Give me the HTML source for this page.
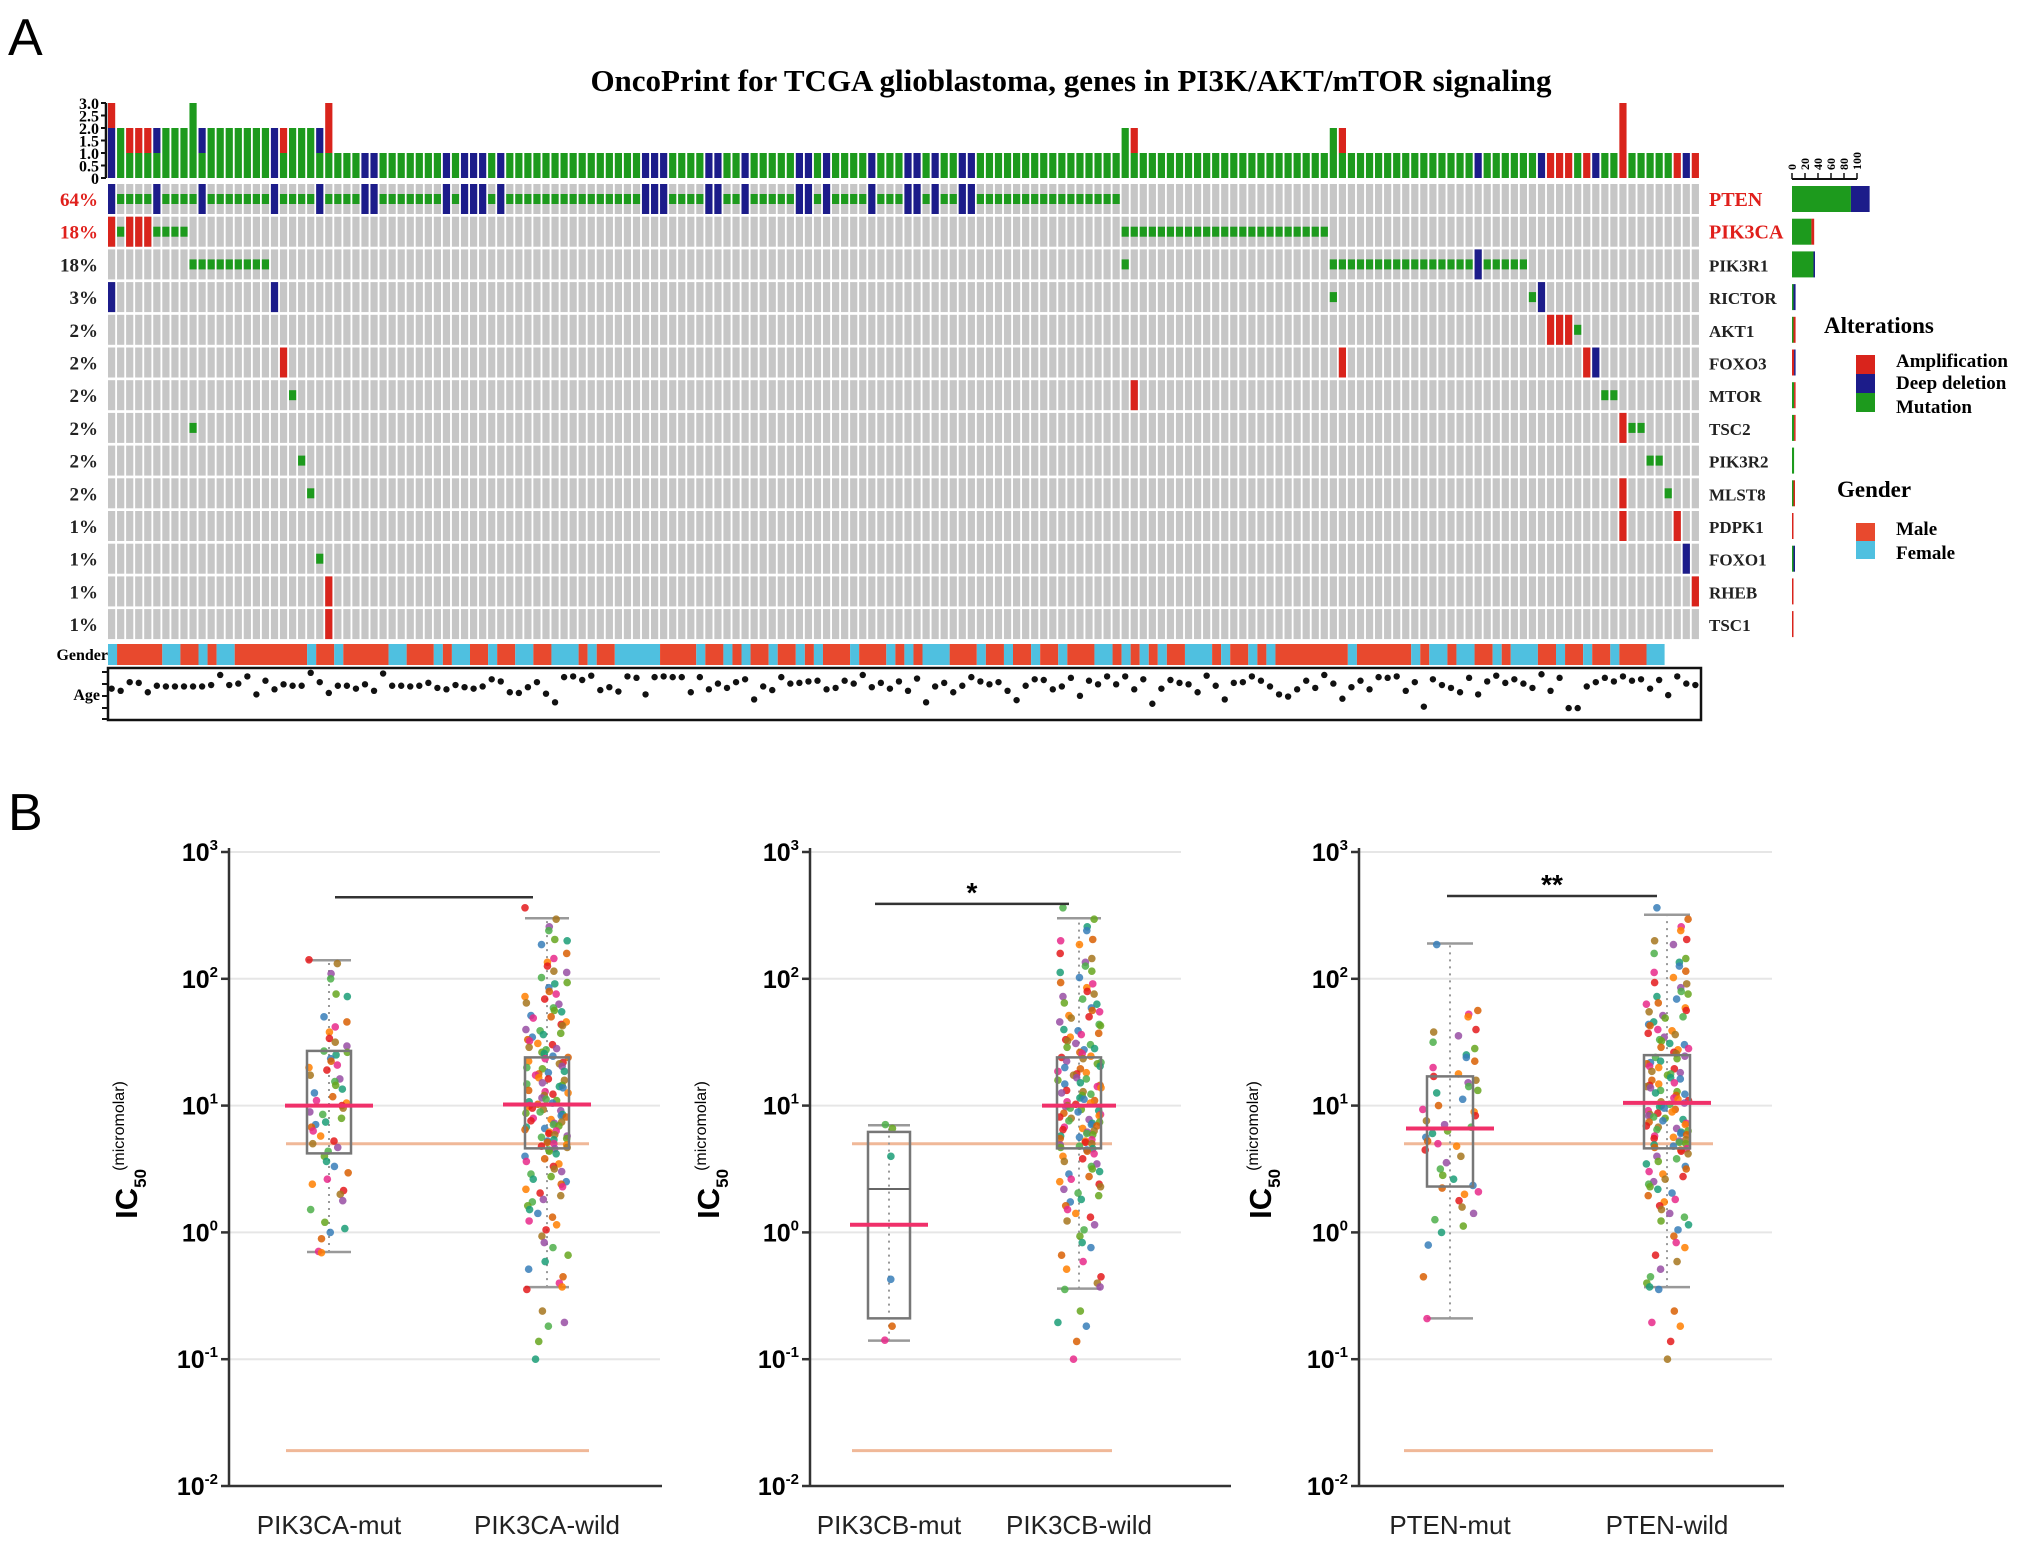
<!DOCTYPE html>
<html><head><meta charset="utf-8"><style>
html,body{margin:0;padding:0;background:#fff;}
svg{display:block;}
</style></head><body>
<svg id="fig" width="2031" height="1545" viewBox="0 0 2031 1545" xmlns="http://www.w3.org/2000/svg">
<rect width="2031" height="1545" fill="#fff"/>
<text x="8" y="55" font-family="Liberation Sans, sans-serif" font-size="52">A</text>
<text x="8" y="830" font-family="Liberation Sans, sans-serif" font-size="52">B</text>
<text x="1071" y="91" text-anchor="middle" font-family="Liberation Serif, serif" font-weight="bold" font-size="31">OncoPrint for TCGA glioblastoma, genes in PI3K/AKT/mTOR signaling</text>
<g id="onco"></g>
<g id="legend">
  <text x="1824" y="333" font-family="Liberation Serif, serif" font-weight="bold" font-size="23">Alterations</text>
  <rect x="1856" y="355" width="19" height="19" fill="#d9241c"/>
  <rect x="1856" y="374" width="19" height="19" fill="#1c1c8a"/>
  <rect x="1856" y="393" width="19" height="19" fill="#1d9a1d"/>
  <text x="1896" y="367" font-family="Liberation Serif, serif" font-weight="bold" font-size="19">Amplification</text>
  <text x="1896" y="389" font-family="Liberation Serif, serif" font-weight="bold" font-size="19">Deep deletion</text>
  <text x="1896" y="413" font-family="Liberation Serif, serif" font-weight="bold" font-size="19">Mutation</text>
  <text x="1837" y="497" font-family="Liberation Serif, serif" font-weight="bold" font-size="23">Gender</text>
  <rect x="1856" y="523" width="19" height="18" fill="#e8492e"/>
  <rect x="1856" y="541" width="19" height="18" fill="#4fc0e0"/>
  <text x="1896" y="535" font-family="Liberation Serif, serif" font-weight="bold" font-size="19">Male</text>
  <text x="1896" y="559" font-family="Liberation Serif, serif" font-weight="bold" font-size="19">Female</text>
</g>
<g id="panelB"></g>
</svg>
<script>
// ---------- Oncoprint data ----------
const nSamples = 176;
const genes = ['PTEN','PIK3CA','PIK3R1','RICTOR','AKT1','FOXO3','MTOR','TSC2','PIK3R2','MLST8','PDPK1','FOXO1','RHEB','TSC1'];
const genePct = ['64%','18%','18%','3%','2%','2%','2%','2%','2%','2%','1%','1%','1%','1%'];
const highlightGenes = ['PTEN','PIK3CA'];
const ptenDel = [0,5,10,18,23,28,29,37,39,40,41,43,59,60,61,66,67,70,76,77,79,84,88,89,91,94,95];
const ptenAlteredRange = [0,111];
const pik3caAmp = [0,2,3,4];
const pik3caMut = [1,5,6,7,8,112,113,114,115,116,117,118,119,120,121,122,123,124,125,126,127,128,129,130,131,132,133,134];
const pik3r1Mut = [9,10,11,12,13,14,15,16,17,112,135,136,137,138,139,140,141,142,143,144,145,146,147,148,149,150,152,153,154,155,156];
const pik3r1Del = [151];
const rictorDel = [0,18,158];
const rictorMut = [135,157];
const akt1Amp = [159,160,161];
const akt1Mut = [162];
const foxo3Amp = [19,136,163];
const foxo3Del = [164];
const mtorMut = [20,165,166];
const mtorAmp = [113];
const tsc2Mut = [9,168,169];
const tsc2Amp = [167];
const pik3r2Mut = [21,170,171];
const mlst8Mut = [22,172];
const mlst8Amp = [167];
const pdpk1Amp = [167,173];
const foxo1Mut = [23];
const foxo1Del = [174];
const rhebAmp = [24,175];
const tsc1Amp = [24];
const genderRuns = [['F',1],['M',5],['F',2],['M',2],['F',1],['M',1],['F',2],['M',8],['F',1],['M',2],['F',1],['M',5],['F',2],['M',3],['F',1],['M',1],['F',2],['M',2],['F',1],['M',2],['F',2],['M',2],['F',3],['M',1],['F',1],['M',2],['F',5],['M',4],['F',1],['M',2],['F',1],['M',1],['F',1],['M',2],['F',1],['M',2],['F',1],['M',1],['F',1],['M',3],['F',1],['M',3],['F',1],['M',1],['F',1],['M',1],['F',3],['M',3],['F',1],['M',2],['F',1],['M',2],['F',1],['M',2],['F',1],['M',3],['F',2],['M',1],['F',1],['M',1],['F',1],['M',1],['F',1],['M',2],['F',3],['M',1],['F',1],['M',2],['F',1],['M',1],['F',1],['M',8],['F',1],['M',6],['F',1],['M',1],['F',2],['M',1],['F',2],['M',2],['F',1],['M',1],['F',3],['M',2],['F',1],['M',2],['F',1],['M',2],['F',1],['M',3],['F',2]];
const ages = [63,60,72,71,58,67,66,66,66,66,66,68,82,68,70,80,55,74,62,69,67,67,85,72,57,67,67,63,69,60,84,67,67,66,67,71,64,62,68,65,63,66,76,73,58,57,65,72,56,44,79,80,75,81,61,65,59,80,78,55,79,80,79,79,58,79,62,70,64,72,76,48,66,61,79,70,71,73,74,62,64,74,70,82,65,71,63,73,60,77,44,66,71,58,67,79,73,69,72,60,47,67,76,75,62,66,78,53,74,69,80,69,80,62,76,42,63,75,71,69,58,81,67,48,71,72,80,74,66,55,52,62,74,64,82,70,49,65,74,62,79,78,80,60,72,38,76,68,64,58,78,55,73,81,71,76,70,64,83,60,78,36,36,66,72,78,73,80,74,76,63,75,54,80,70,68];
const topAxisTicks = ['0','0.5','1.0','1.5','2.0','2.5','3.0'];
const pctScaleTicks = ['0','20','40','60','80','100'];

// ---------- Panel B data ----------
const orangeRefs = [5, 0.019];
const yTickExps = [-2,-1,0,1,2,3];
const wildLog = [2.56,2.47,2.41,2.38,2.31,2.3,2.27,2.2,2.16,2.13,2.1,2.06,2.05,2.01,1.97,1.96,1.93,1.9,1.88,1.86,1.84,1.81,1.8,1.77,1.75,1.74,1.71,1.7,1.69,1.66,1.64,1.63,1.6,1.59,1.57,1.56,1.54,1.52,1.51,1.49,1.48,1.46,1.45,1.44,1.42,1.41,1.39,1.38,1.37,1.35,1.34,1.33,1.31,1.3,1.29,1.27,1.26,1.25,1.24,1.22,1.21,1.2,1.18,1.17,1.16,1.15,1.14,1.12,1.11,1.1,1.09,1.08,1.06,1.05,1.04,1.03,1.02,1.01,1.0,0.99,0.98,0.97,0.96,0.95,0.94,0.93,0.92,0.91,0.9,0.89,0.88,0.87,0.86,0.85,0.84,0.83,0.82,0.81,0.8,0.79,0.78,0.77,0.76,0.75,0.74,0.73,0.72,0.71,0.7,0.69,0.68,0.67,0.66,0.65,0.64,0.62,0.6,0.58,0.56,0.54,0.52,0.5,0.48,0.46,0.44,0.42,0.4,0.38,0.36,0.34,0.31,0.29,0.26,0.24,0.21,0.18,0.15,0.12,0.09,0.06,0.02,-0.03,-0.08,-0.12,-0.18,-0.23,-0.29,-0.35,-0.4,-0.43,-0.45,-0.62,-0.71,-0.74,-0.86,-1.0];
const pik3caMutLog = [2.15,2.12,2.04,2.0,1.88,1.86,1.7,1.66,1.62,1.58,1.53,1.5,1.47,1.43,1.42,1.4,1.37,1.35,1.32,1.3,1.28,1.24,1.21,1.19,1.16,1.13,1.1,1.07,1.04,1.02,1.0,0.98,0.95,0.93,0.9,0.87,0.85,0.83,0.8,0.76,0.72,0.7,0.67,0.64,0.6,0.56,0.52,0.47,0.42,0.38,0.33,0.3,0.25,0.18,0.08,0.03,0.0,-0.05,-0.15,-0.16];
const pik3cbMutLog = [0.85,0.82,0.6,-0.37,-0.74,-0.85];
const ptenMutLog = [2.27,1.75,1.72,1.7,1.6,1.58,1.55,1.5,1.45,1.4,1.38,1.35,1.3,1.25,1.23,1.2,1.18,1.15,1.12,1.1,1.05,1.0,0.97,0.95,0.92,0.88,0.85,0.83,0.8,0.78,0.75,0.72,0.7,0.68,0.65,0.6,0.55,0.5,0.45,0.42,0.37,0.35,0.32,0.3,0.25,0.2,0.15,0.1,0.05,0.0,-0.1,-0.35,-0.68];
const p1Categories = ['PIK3CA-mut','PIK3CA-wild'];
const p2Categories = ['PIK3CB-mut','PIK3CB-wild'];
const p3Categories = ['PTEN-mut','PTEN-wild'];
const p1MutBox = [0.7,4.2,10,27,140];
const p1WildBox = [0.37,4.6,10,24,300];
const p2MutBox = [0.14,0.21,2.2,6.2,7];
const p2WildBox = [0.36,4.6,10,24,300];
const p3MutBox = [0.21,2.3,6.6,17,190];
const p3WildBox = [0.37,4.6,10.5,25,320];
const p1Means = [10,10.2];
const p2Means = [1.15,10];
const p3Means = [6.6,10.5];
const sigLabels = ['','*','**'];
const sigLevels = [440,390,450];

const NS='http://www.w3.org/2000/svg';
function mk(parent, tag, attrs, text){
  const e=document.createElementNS(NS,tag);
  for(const k in attrs) e.setAttribute(k,attrs[k]);
  if(text!==undefined) e.textContent=text;
  parent.appendChild(e); return e;
}
function range(a,b){const r=[];for(let i=a;i<=b;i++)r.push(i);return r;}

const onco=document.getElementById('onco');
const X0=108, PITCH=9.05, CW=7.2, ROW0=184, RP=32.7, RH=30;
const colX=c=>X0+c*PITCH;
const rowY=r=>ROW0+r*RP;
const C={amp:'#d9241c',del:'#1c1c8a',mut:'#1d9a1d',bg:'#c6c6c6'};
const serif='Liberation Serif, serif';

const ptenMut = range(ptenAlteredRange[0],ptenAlteredRange[1]).filter(c=>ptenDel.indexOf(c)<0);
const alt = {
 PTEN:{mut:ptenMut,amp:[],del:ptenDel},
 PIK3CA:{mut:pik3caMut,amp:pik3caAmp,del:[]},
 PIK3R1:{mut:pik3r1Mut,amp:[],del:pik3r1Del},
 RICTOR:{mut:rictorMut,amp:[],del:rictorDel},
 AKT1:{mut:akt1Mut,amp:akt1Amp,del:[]},
 FOXO3:{mut:[],amp:foxo3Amp,del:foxo3Del},
 MTOR:{mut:mtorMut,amp:mtorAmp,del:[]},
 TSC2:{mut:tsc2Mut,amp:tsc2Amp,del:[]},
 PIK3R2:{mut:pik3r2Mut,amp:[],del:[]},
 MLST8:{mut:mlst8Mut,amp:mlst8Amp,del:[]},
 PDPK1:{mut:[],amp:pdpk1Amp,del:[]},
 FOXO1:{mut:foxo1Mut,amp:[],del:foxo1Del},
 RHEB:{mut:[],amp:rhebAmp,del:[]},
 TSC1:{mut:[],amp:tsc1Amp,del:[]}
};

genes.forEach((g,r)=>{
  const y=rowY(r);
  const rowG=mk(onco,'g',{});
  
  
  for(let c=0;c<nSamples;c++){
    mk(rowG,'rect',{x:colX(c),y:y,width:CW,height:RH,fill:C.bg});
  }
  const a=alt[g];
  a.amp.forEach(c=>{const e=mk(rowG,'rect',{x:colX(c),y:y,width:CW,height:RH,fill:C.amp});
    
    });
  a.del.forEach(c=>{const e=mk(rowG,'rect',{x:colX(c),y:y,width:CW,height:RH,fill:C.del});
    
    });
  a.mut.forEach(c=>{const e=mk(rowG,'rect',{x:colX(c),y:y+RH/2-5,width:CW,height:10,fill:C.mut});
    
    });
  const red=highlightGenes.indexOf(g)>=0;
  const pt=mk(onco,'text',{x:98,y:y+RH/2+7,'text-anchor':'end','font-family':serif,'font-weight':'bold','font-size':19,fill:red?'#e0201c':'#222'},genePct[r]);
  
  
  const gl=mk(onco,'text',{x:1709,y:y+RH/2+7,'font-family':serif,'font-weight':'bold','font-size':red?20:17,fill:red?'#e0201c':'#222'},g);
  
  
});

const TB0=178, TU=25;
const tbY=v=>TB0-v*TU;
for(let c=0;c<nSamples;c++){
  let m=0,d=0,am=0;
  genes.forEach(g=>{const a=alt[g]; if(a.mut.indexOf(c)>=0)m++; if(a.del.indexOf(c)>=0)d++; if(a.amp.indexOf(c)>=0)am++;});
  let base=0;
  [[m,C.mut],[d,C.del],[am,C.amp]].forEach(([n,col])=>{
    if(n>0){const e=mk(onco,'rect',{x:colX(c),y:tbY(base+n),width:CW,height:n*TU,fill:col});
      
      
      base+=n;}
  });
}
mk(onco,'line',{x1:106,y1:tbY(0),x2:106,y2:tbY(3),stroke:'#111','stroke-width':2.5});
topAxisTicks.forEach((t,i)=>{
  const v=i*0.5;
  mk(onco,'line',{x1:101,y1:tbY(v),x2:106,y2:tbY(v),stroke:'#111','stroke-width':2});
  const e=mk(onco,'text',{x:99,y:tbY(v)+6,'text-anchor':'end','font-family':serif,'font-weight':'bold','font-size':16},t);
  
  
});

const PB0=1792, PXP=1.22, TICKP=0.65;
mk(onco,'line',{x1:PB0,y1:179,x2:PB0+100*TICKP,y2:179,stroke:'#111','stroke-width':2});
pctScaleTicks.forEach((t,i)=>{
  const x=PB0+(+t)*TICKP;
  mk(onco,'line',{x1:x,y1:173,x2:x,y2:179,stroke:'#111','stroke-width':1.5});
  const e=mk(onco,'text',{x:0,y:0,transform:'translate('+(x+4)+',170) rotate(-90)','font-family':serif,'font-weight':'bold','font-size':12},t);
  
  
});
genes.forEach((g,r)=>{
  const a=alt[g]; let x=PB0; const y=rowY(r)+2;
  [[a.mut.length,C.mut],[a.amp.length,C.amp],[a.del.length,C.del]].forEach(([n,col])=>{
    if(!n)return;
    const w=Math.max(n/nSamples*100*PXP,1.5);
    const e=mk(onco,'rect',{x:x,y:y,width:w,height:RH-4,fill:col});
    
    
    x+=w;
  });
});

let gc=0;
genderRuns.forEach(([code,n])=>{
  const e=mk(onco,'rect',{x:colX(gc),y:644,width:n*PITCH,height:21,fill:code==='M'?'#e8492e':'#4fc0e0'});
  
  
  gc+=n;
});
{const e=mk(onco,'text',{x:108,y:660,'text-anchor':'end','font-family':serif,'font-weight':'bold','font-size':16},'Gender');
}

const ageY=a=>734-0.72*a;
{const e=mk(onco,'rect',{x:108,y:668,width:1593,height:52,fill:'none',stroke:'#111','stroke-width':2.5});
}
[672,684,696,708,719].forEach(y=>mk(onco,'line',{x1:102,y1:y,x2:108,y2:y,stroke:'#111','stroke-width':2}));
{const e=mk(onco,'text',{x:100,y:700,'text-anchor':'end','font-family':serif,'font-weight':'bold','font-size':16},'Age');
}
for(let c=0;c<Math.min(nSamples,ages.length);c++){
  const e=mk(onco,'circle',{cx:colX(c)+CW/2,cy:ageY(ages[c]),r:3.2,fill:'#111'});
  
  
}

// ---------- Panel B ----------
const pb=document.getElementById('panelB');
const YB=1486, DEC=126.8;
const yLog=l=>YB-(l+2)*DEC;
const yVal=v=>yLog(Math.log10(v));
const palette=['#e41a1c','#4daf4a','#377eb8','#ff7f00','#984ea3','#1b9e77','#e7298a','#a6761d','#66a61e','#d95f02'];
const sans='Liberation Sans, sans-serif';
const panels=[
 {ax:229,xEnd:662,gridEnd:660,cx:[329,547],boxW:[44,44],meanW:[88,88],cats:p1Categories,boxes:[p1MutBox,p1WildBox],means:p1Means,pts:[pik3caMutLog,wildLog],spread:[40,44],orange:[286,589],sig:[335,533],titleX:137,name:'pik3ca'},
 {ax:810,xEnd:1231,gridEnd:1181,cx:[889,1079],boxW:[42,44],meanW:[78,74],cats:p2Categories,boxes:[p2MutBox,p2WildBox],means:p2Means,pts:[pik3cbMutLog,wildLog],spread:[10,44],orange:[852,1112],sig:[875,1069],titleX:719,name:'pik3cb'},
 {ax:1359,xEnd:1784,gridEnd:1772,cx:[1450,1667],boxW:[46,46],meanW:[88,88],cats:p3Categories,boxes:[p3MutBox,p3WildBox],means:p3Means,pts:[ptenMutLog,wildLog],spread:[58,44],orange:[1404,1713],sig:[1447,1657],titleX:1271,name:'pten'}
];
panels.forEach((p,pi)=>{
  const g=mk(pb,'g',{});
  
  
  yTickExps.forEach(ex=>{
    const y=yLog(ex);
    if(ex>-2) mk(g,'line',{x1:p.ax,y1:y,x2:p.gridEnd,y2:y,stroke:'#e6e6e6','stroke-width':2});
    mk(g,'line',{x1:p.ax-8,y1:y,x2:p.ax,y2:y,stroke:'#333','stroke-width':2.5});
    const t=mk(g,'text',{x:p.ax-11,y:y+9,'text-anchor':'end','font-family':sans,'font-weight':'bold','font-size':25});
    
    
    mk(t,'tspan',{},'10');
    mk(t,'tspan',{dy:-11,'font-size':15},String(ex));
  });
  mk(g,'line',{x1:p.ax,y1:yLog(3)-4,x2:p.ax,y2:YB,stroke:'#333','stroke-width':2.5});
  mk(g,'line',{x1:p.ax,y1:YB,x2:p.xEnd,y2:YB,stroke:'#333','stroke-width':2.5});
  const tt=mk(g,'text',{transform:'translate('+p.titleX+',1150) rotate(-90)','text-anchor':'middle','font-family':sans,'font-weight':'bold','font-size':31});
  
  
  mk(tt,'tspan',{},'IC');
  mk(tt,'tspan',{dy:9,'font-size':17},'50');
  mk(tt,'tspan',{dy:-22,dx:-2,'font-size':16,'font-weight':'normal'},'(micromolar)');
  orangeRefs.forEach(v=>{
    const e=mk(g,'line',{x1:p.orange[0],y1:yVal(v),x2:p.orange[1],y2:yVal(v),stroke:'#f0b898','stroke-width':3});
    
    
  });
  [0,1].forEach(k=>{
    const cx=p.cx[k], b=p.boxes[k], bw=p.boxW[k];
    mk(g,'line',{x1:cx,y1:yVal(b[0]),x2:cx,y2:yVal(b[4]),stroke:'#999','stroke-width':2,'stroke-dasharray':'2,5'});
    [b[0],b[4]].forEach(v=>mk(g,'line',{x1:cx-bw/2,y1:yVal(v),x2:cx+bw/2,y2:yVal(v),stroke:'#999','stroke-width':2.5}));
    p.pts[k].forEach((l,i)=>{
      const off=(((i*61+i*i*7+pi*13)%97)/96-0.5)*p.spread[k];
      const e=mk(g,'circle',{cx:cx+off,cy:yLog(l),r:3.8,fill:palette[(i*7+pi)%palette.length],'fill-opacity':0.85});
      
      
    });
    const bx=mk(g,'rect',{x:cx-bw/2,y:yVal(b[3]),width:bw,height:yVal(b[1])-yVal(b[3]),fill:'none',stroke:'#777','stroke-width':2.5});
    
    
    mk(g,'line',{x1:cx-bw/2,y1:yVal(b[2]),x2:cx+bw/2,y2:yVal(b[2]),stroke:'#666','stroke-width':2});
    const mw=p.meanW[k];
    const ml=mk(g,'line',{x1:cx-mw/2,y1:yVal(p.means[k]),x2:cx+mw/2,y2:yVal(p.means[k]),stroke:'#f0306a','stroke-width':4});
    
    
    const lbl=mk(g,'text',{x:cx,y:1534,'text-anchor':'middle','font-family':sans,'font-size':26,fill:'#222'},p.cats[k]);
    
    
  });
  const sy=yVal(sigLevels[pi]);
  const sb=mk(g,'line',{x1:p.sig[0],y1:sy,x2:p.sig[1],y2:sy,stroke:'#333','stroke-width':2.5});
  
  
  if(sigLabels[pi]){
    const st=mk(g,'text',{x:(p.sig[0]+p.sig[1])/2,y:sy-2,'text-anchor':'middle','font-family':sans,'font-weight':'bold','font-size':28},sigLabels[pi]);
    
    
  }
});
</script>
</body></html>
